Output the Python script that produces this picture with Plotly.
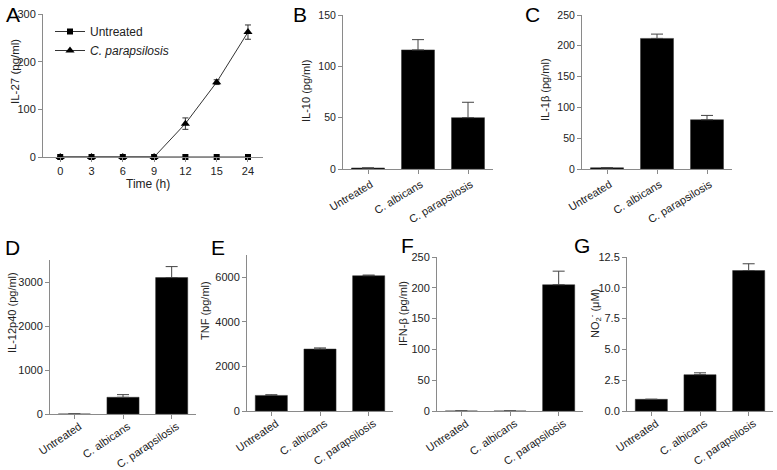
import plotly.graph_objects as go

W, H = 777, 470

# ---------- data ----------
time_labels = ["0", "3", "6", "9", "12", "15", "24"]
il27_untreated = [0, 0, 0, 0, 0, 0, 0]
il27_parap = [0, 0, 0, 0, 70, 157, 262]
il27_parap_err = [0, 0, 0, 0, 12, 5, 15]

groups = ["Untreated", "C. albicans", "C. parapsilosis"]
il10 = [1, 116, 50]
il10_err = [0, 10, 15]
il1b = [2, 212, 80]
il1b_err = [0, 7, 7]
il12p40 = [0, 380, 3100]
il12p40_err = [0, 60, 250]
tnf = [700, 2780, 6070]
tnf_err = [30, 50, 30]
ifnb = [0, 0, 205]
ifnb_err = [0, 0, 22]
no2 = [0.95, 2.95, 11.4]
no2_err = [0, 0.15, 0.55]

FONT = "Liberation Sans, Arial, sans-serif"
AXC = "#8a8a8a"
TXT = "#222222"

def px_x(a, b):
    return [a / W, b / W]

def px_y(top, bottom):
    return [1 - bottom / H, 1 - top / H]

fig = go.Figure()

# xf: x tick font, yf: y tick font, ang: x tick angle, sh/so: label shift/standoff
panels = {
    "A": dict(x=(43, 263), y=(14, 157), yr=[0, 300], dt=100, xf=11, yf=11, ang=0, sh=0, so=0),
    "B": dict(x=(343, 493), y=(15, 169), yr=[0, 150], dt=50, xf=11, yf=10.5, ang=-31, sh=3, so=0),
    "C": dict(x=(582, 732), y=(15, 169), yr=[0, 250], dt=50, xf=11, yf=10.5, ang=-31, sh=3, so=0),
    "D": dict(x=(50, 196), y=(260, 414), yr=[0, 3500], dt=1000, xf=11, yf=11, ang=-34, sh=5, so=-3),
    "E": dict(x=(247, 393), y=(255, 411), yr=[0, 7000], dt=2000, xf=11, yf=11, ang=-34, sh=5, so=-3),
    "F": dict(x=(437, 583), y=(257, 411), yr=[0, 250], dt=50, xf=11, yf=11, ang=-34, sh=5, so=-3),
    "G": dict(x=(627, 773), y=(257, 411), yr=[0, 12.5], dt=2.5, xf=11, yf=11, ang=-34, sh=5, so=-3),
}

layout = dict(
    template="none",
    width=W, height=H, margin=dict(l=0, r=0, t=0, b=0, autoexpand=False),
    paper_bgcolor="white", plot_bgcolor="white",
    font=dict(family=FONT, size=11, color=TXT),
    showlegend=True,
)

for i, (k, p) in enumerate(panels.items()):
    sfx = "" if i == 0 else str(i + 1)
    xa = dict(domain=px_x(*p["x"]), anchor="y" + sfx, showline=True, linecolor=AXC,
              linewidth=1, ticks="outside", ticklen=4, tickcolor=AXC, showgrid=False,
              zeroline=False, tickfont=dict(size=p["xf"], color=TXT), type="category",
              automargin=False)
    ya = dict(domain=px_y(*p["y"]), anchor="x" + sfx, showline=True, linecolor=AXC,
              linewidth=1, ticks="outside", ticklen=4, tickcolor=AXC, showgrid=False,
              zeroline=False, range=p["yr"], dtick=p["dt"], tick0=0,
              tickfont=dict(size=p["yf"], color=TXT), automargin=False)
    if k == "A":
        xa["range"] = [-0.55, 6.48]
    else:
        xa["range"] = [-0.5, 2.5]
        xa["tickangle"] = p["ang"]
        xa["ticklabelshift"] = p["sh"]
        xa["ticklabelstandoff"] = p["so"]
    if k == "G":
        ya["tickformat"] = ".1f"
    layout["xaxis" + sfx] = xa
    layout["yaxis" + sfx] = ya

fig.add_trace(go.Scatter(
    x=time_labels, y=il27_untreated, mode="lines+markers", name="Untreated",
    line=dict(color="#333333", width=1), marker=dict(symbol="square", size=6, color="black"),
    cliponaxis=False, xaxis="x", yaxis="y"))
fig.add_trace(go.Scatter(
    x=time_labels, y=il27_parap, mode="lines+markers", name="<i>C. parapsilosis</i>",
    line=dict(color="#333333", width=1), marker=dict(symbol="triangle-up", size=8, color="black"),
    error_y=dict(type="data", array=il27_parap_err, color="#333333", thickness=1, width=3),
    cliponaxis=False, xaxis="x", yaxis="y"))

bar_sets = [
    (il10, il10_err), (il1b, il1b_err), (il12p40, il12p40_err),
    (tnf, tnf_err), (ifnb, ifnb_err), (no2, no2_err),
]
for j, (vals, errs) in enumerate(bar_sets):
    sfx = str(j + 2)
    fig.add_trace(go.Bar(
        x=groups, y=vals, marker=dict(color="black", line=dict(color="#333333", width=0.5)),
        error_y=dict(type="data", symmetric=False, array=errs, arrayminus=[0] * len(errs),
                     color="#444444", thickness=1, width=6),
        showlegend=False, xaxis="x" + sfx, yaxis="y" + sfx, width=0.66))

layout["legend"] = dict(x=50 / W, y=1 - 17 / H, xanchor="left", yanchor="top",
                        bgcolor="rgba(0,0,0,0)", font=dict(size=12, color=TXT),
                        tracegroupgap=0, itemwidth=30)

ann = []
letters = {"A": (13, 14), "B": (300, 14), "C": (532, 14), "D": (12, 247),
           "E": (218, 247), "F": (407, 245), "G": (582, 245)}
for L, (x, y) in letters.items():
    ann.append(dict(text=L, x=x / W, y=1 - y / H, xref="paper", yref="paper",
                    showarrow=False, font=dict(size=21, color="black"),
                    xanchor="center", yanchor="middle"))

ytitles = [
    ("IL-27 (pg/ml)", 15, 72, 11.5),
    ("IL-10 (pg/ml)", 306, 91, 11),
    ("IL-1β (pg/ml)", 545, 90, 11),
    ("IL-12p40 (pg/ml)", 12, 313, 11),
    ("TNF (pg/ml)", 205, 311, 11),
    ("IFN-β (pg/ml)", 403, 314, 11),
    ("NO<sub>2</sub><sup>-</sup> (μM)", 595, 314, 11),
]
for t, x, y, fs in ytitles:
    ann.append(dict(text=t, x=x / W, y=1 - y / H, xref="paper", yref="paper",
                    showarrow=False, textangle=-90, font=dict(size=fs, color=TXT),
                    xanchor="center", yanchor="middle"))
ann.append(dict(text="Time (h)", x=148 / W, y=1 - 184 / H, xref="paper", yref="paper",
                showarrow=False, font=dict(size=12, color=TXT), xanchor="center", yanchor="middle"))
layout["annotations"] = ann

fig.update_layout(**layout)
fig.write_html("out.html", config={"displayModeBar": False},
               post_script="document.body.style.margin='0';document.body.style.overflow='hidden';")
